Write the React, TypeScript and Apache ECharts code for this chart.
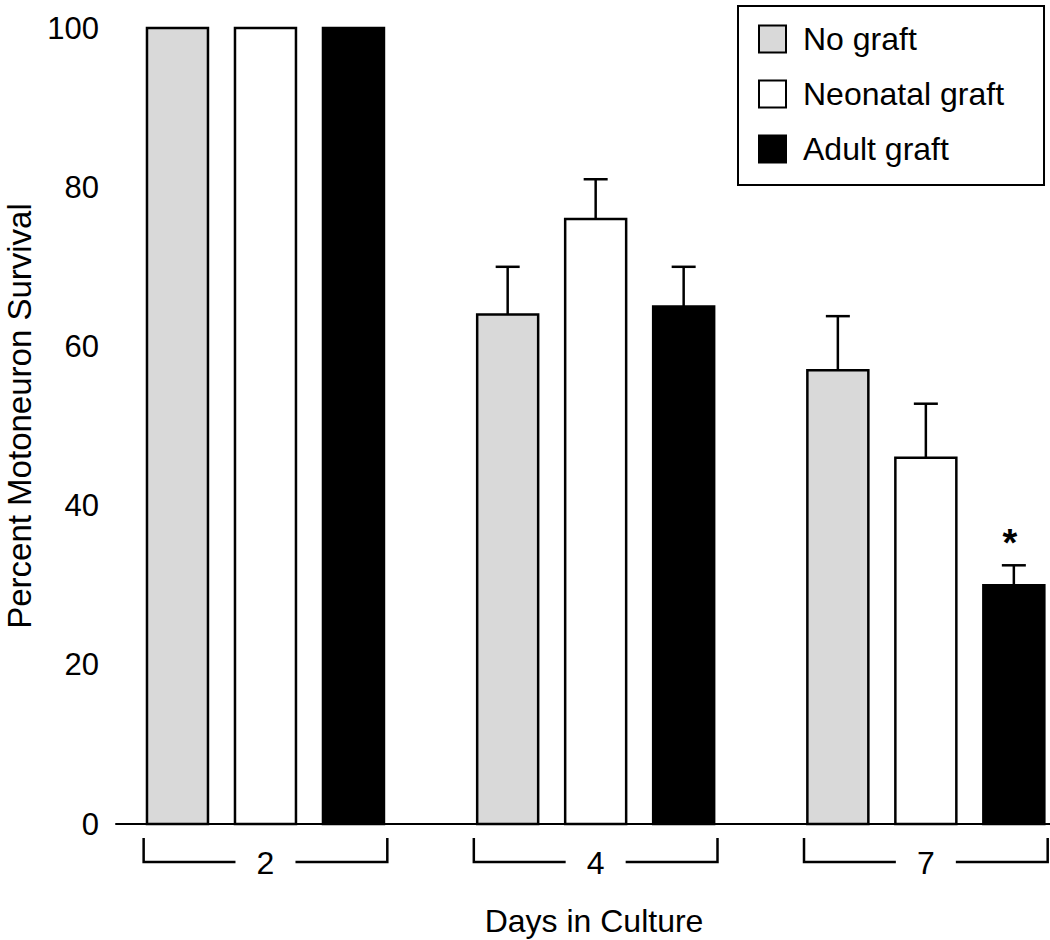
import React, { useEffect, useRef } from "react";
import * as echarts from "echarts";

const groups = ["2", "4", "7"];
const seriesNames = ["No graft", "Neonatal graft", "Adult graft"];
const noGraft = [100, 64, 57];
const noGraftSem = [0, 6, 6.8];
const neonatal = [100, 76, 46];
const neonatalSem = [0, 5, 6.8];
const adult = [100, 65, 30];
const adultSem = [0, 5, 2.5];
const adultSig = [0, 0, 1];
const noSig = [0, 0, 0];
const colors = ["#d9d9d9", "#ffffff", "#000000"];

const FONT = "'Liberation Sans', Arial, Helvetica, sans-serif";
const BAR_OFFSETS = [-0.2665, 0, 0.2665];
const BAR_WIDTH = 0.1847;
const BRACKET_HALF = 0.369;

function makeSeries(idx: number, vals: number[], sems: number[], sig: number[]) {
  return {
    type: "custom",
    name: seriesNames[idx],
    clip: false,
    itemStyle: { color: colors[idx] },
    data: groups.map((_, g) => [g, vals[g], sems[g], sig[g]]),
    renderItem: (params: any, api: any) => {
      const g = api.value(0);
      const v = api.value(1);
      const e = api.value(2);
      const s = api.value(3);
      const x = g + BAR_OFFSETS[idx];
      const p0 = api.coord([x - BAR_WIDTH / 2, 0]);
      const p1 = api.coord([x + BAR_WIDTH / 2, v]);
      const cx = api.coord([x, v])[0];
      const children: any[] = [];
      if (e > 0) {
        const top = api.coord([x, v + e])[1];
        children.push({
          type: "line",
          shape: { x1: cx, y1: p1[1], x2: cx, y2: top },
          style: { stroke: "#000", lineWidth: 2.5 },
        });
        children.push({
          type: "line",
          shape: { x1: cx - 12, y1: top, x2: cx + 12, y2: top },
          style: { stroke: "#000", lineWidth: 2.5 },
        });
        if (s) {
          children.push({
            type: "text",
            x: cx - 4,
            y: top - 22,
            style: {
              text: "*",
              fontSize: 38,
              fontWeight: "bold",
              fontFamily: FONT,
              fill: "#000",
              align: "center",
              verticalAlign: "middle",
            },
          });
        }
      }
      children.push({
        type: "rect",
        shape: { x: p0[0], y: p1[1], width: p1[0] - p0[0], height: p0[1] - p1[1] },
        style: { fill: colors[idx], stroke: "#000", lineWidth: 2.5 },
      });
      return { type: "group", children };
    },
  };
}

const bracketSeries = {
  type: "custom",
  name: "brackets",
  clip: false,
  silent: true,
  data: groups.map((label, g) => [g, 0, label]),
  renderItem: (params: any, api: any) => {
    const g = api.value(0);
    const label = groups[g];
    const base = api.coord([g, 0]);
    const left = api.coord([g - BRACKET_HALF, 0])[0];
    const right = api.coord([g + BRACKET_HALF, 0])[0];
    const yTop = base[1] + 14;
    const yBot = base[1] + 38;
    const gap = 30;
    const st = { stroke: "#000", lineWidth: 2.5, fill: "none" };
    return {
      type: "group",
      children: [
        {
          type: "polyline",
          shape: { points: [[left, yTop], [left, yBot], [base[0] - gap, yBot]] },
          style: st,
        },
        {
          type: "polyline",
          shape: { points: [[base[0] + gap, yBot], [right, yBot], [right, yTop]] },
          style: st,
        },
        {
          type: "text",
          x: base[0],
          y: yBot + 1,
          style: {
            text: label,
            fontSize: 32,
            fontFamily: FONT,
            fill: "#000",
            align: "center",
            verticalAlign: "middle",
          },
        },
      ],
    };
  },
};

export default function App() {
  const ref = useRef<HTMLDivElement>(null);
  useEffect(() => {
    document.body.style.margin = "0";
    const chart = echarts.init(ref.current!, null, { renderer: "svg" });
    chart.setOption({
      animation: false,
      backgroundColor: "#ffffff",
      grid: { left: 116, right: 0, top: 28, bottom: 116, outerBoundsMode: "none", containLabel: false },
      xAxis: {
        type: "value",
        min: -0.4527,
        max: 2.376,
        axisLine: { show: true, onZero: false, lineStyle: { color: "#000", width: 2 } },
        axisTick: { show: false },
        axisLabel: { show: false },
        splitLine: { show: false },
      },
      yAxis: {
        type: "value",
        min: 0,
        max: 100,
        interval: 20,
        name: "Percent Motoneuron Survival",
        nameLocation: "middle",
        nameRotate: 90,
        nameGap: 80,
        nameTextStyle: { fontSize: 33, fontFamily: FONT, color: "#000", padding: [0, 0, 0, 20] },
        axisLine: { show: true, lineStyle: { color: "#000", width: 2 } },
        axisTick: { show: true, inside: true, length: 11, lineStyle: { color: "#000", width: 2 } },
        axisLabel: { fontSize: 31, fontFamily: FONT, color: "#000", margin: 17 },
        splitLine: { show: false },
      },
      legend: {
        orient: "vertical",
        left: 738,
        top: 6,
        padding: [17, 40, 20, 20],
        itemWidth: 27,
        itemHeight: 27,
        itemGap: 23,
        selectedMode: false,
        borderColor: "#000",
        borderWidth: 2,
        textStyle: {
          fontSize: 32,
          fontFamily: FONT,
          color: "#000",
          lineHeight: 27,
          padding: [0, 0, 0, 12],
        },
        data: seriesNames.map((n, i) => ({
          name: n,
          icon: "rect",
          itemStyle: { color: colors[i], borderColor: "#000", borderWidth: 2 },
        })),
      },
      graphic: [
        {
          type: "text",
          x: 594,
          y: 921,
          style: {
            text: "Days in Culture",
            fontSize: 32,
            fontFamily: FONT,
            fill: "#000",
            align: "center",
            verticalAlign: "middle",
          },
        },
      ],
      series: [
        makeSeries(0, noGraft, noGraftSem, noSig),
        makeSeries(1, neonatal, neonatalSem, noSig),
        makeSeries(2, adult, adultSem, adultSig),
        bracketSeries,
      ],
    });
    return () => chart.dispose();
  }, []);
  return <div ref={ref} style={{ width: 1050, height: 940 }} />;
}
